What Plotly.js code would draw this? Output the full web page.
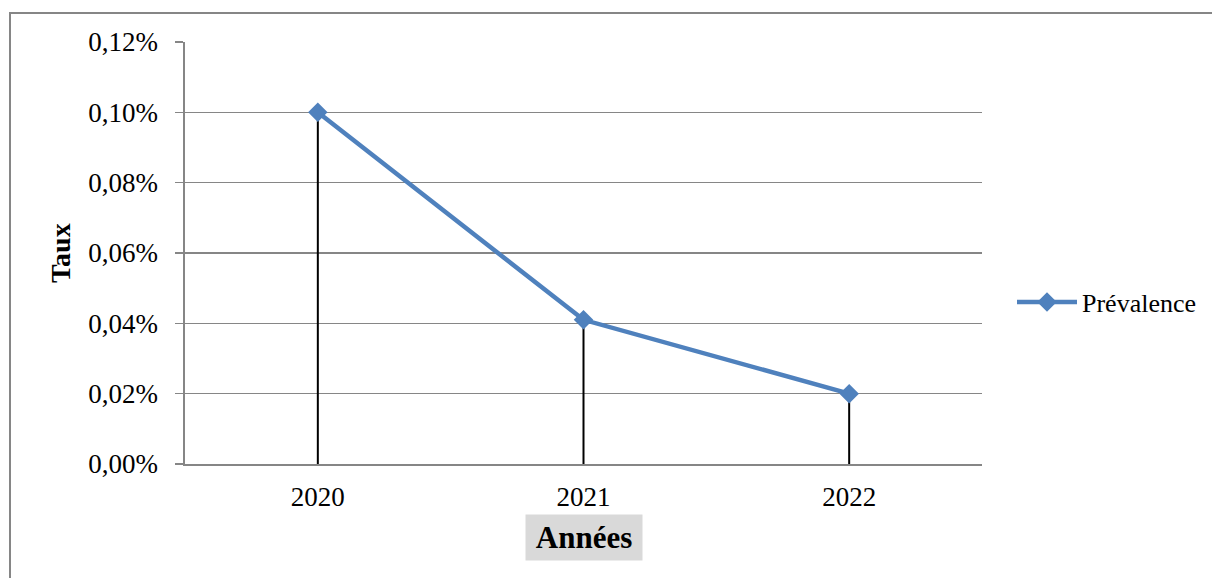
<!DOCTYPE html>
<html>
<head>
<meta charset="utf-8">
<script src="https://cdn.plot.ly/plotly-3.0.1.min.js"></script>
<style>
  html, body { margin: 0; padding: 0; background: #ffffff; }
  #chart { width: 1212px; height: 578px; }
</style>
</head>
<body>
<div id="chart"></div>
<script>
// Prévalence par année
const years = ['2020', '2021', '2022'];
const prevalence = [0.0010, 0.00041, 0.0002];
const yTicks = [0, 0.0002, 0.0004, 0.0006, 0.0008, 0.0010, 0.0012];

const W = 1212, H = 578;
const M = { l: 185, r: 230, t: 42, b: 114, autoexpand: false };
const plotW = W - M.l - M.r;
const plotH = H - M.t - M.b;
// pixel -> paper helpers for the frame and labels
const px = x => (x - M.l) / plotW;
const py = y => (H - M.b - y) / plotH;

const gray = '#868686';
const serif = '"Liberation Serif", "Times New Roman", serif';

// vertical drop lines from each point down to the axis
const dropX = [], dropY = [];
years.forEach((yr, i) => {
  dropX.push(yr, yr, null);
  dropY.push(0, prevalence[i], null);
});

const traces = [
  {
    type: 'scatter', mode: 'lines',
    x: dropX, y: dropY,
    line: { color: '#000000', width: 2 },
    showlegend: false, hoverinfo: 'skip'
  },
  {
    type: 'scatter', mode: 'lines+markers',
    name: 'Prévalence',
    x: years, y: prevalence,
    line: { color: '#4f81bd', width: 4.5 },
    marker: { symbol: 'diamond', size: 15, color: '#4f81bd' }
  }
];

const layout = {
  width: W, height: H,
  margin: M,
  paper_bgcolor: '#ffffff',
  plot_bgcolor: '#ffffff',
  separators: ', ',
  font: { family: serif, size: 27, color: '#000000' },
  showlegend: true,
  legend: {
    x: px(1012), y: py(302), xanchor: 'left', yanchor: 'middle',
    font: { family: serif, size: 26, color: '#000000' },
    bgcolor: 'rgba(0,0,0,0)', borderwidth: 0, itemwidth: 60
  },
  xaxis: {
    type: 'category',
    categoryorder: 'array', categoryarray: years,
    range: [-0.5, 2.5],
    showgrid: false, zeroline: false,
    showline: true, linecolor: gray, linewidth: 1.5,
    ticks: '', ticklabelstandoff: 8,
    tickfont: { family: serif, size: 27, color: '#000000' }
  },
  yaxis: {
    range: [0, 0.0012],
    tickvals: yTicks, tickformat: '.2%',
    showgrid: true, gridcolor: gray, gridwidth: 1.6,
    zeroline: false,
    showline: true, linecolor: gray, linewidth: 1.6,
    ticks: 'outside', ticklen: 8, tickcolor: gray, tickwidth: 1.6,
    ticklabelstandoff: 12,
    tickfont: { family: serif, size: 27, color: '#000000' }
  },
  annotations: [
    {
      text: '<b>Années</b>', xref: 'paper', yref: 'paper',
      x: px(584), y: py(537), xanchor: 'center', yanchor: 'middle',
      showarrow: false, bgcolor: '#d9d9d9', width: 116, height: 45, borderpad: 0,
      font: { family: serif, size: 31, color: '#000000' }
    },
    {
      text: '<b>Taux</b>', xref: 'paper', yref: 'paper',
      x: px(60), y: py(253), xanchor: 'center', yanchor: 'middle',
      textangle: -90, showarrow: false,
      font: { family: serif, size: 28, color: '#000000' }
    }
  ],
  shapes: [
    {
      type: 'rect', xref: 'paper', yref: 'paper',
      x0: px(10), x1: px(1230), y0: py(600), y1: py(13),
      line: { color: gray, width: 2 }, fillcolor: 'rgba(0,0,0,0)', layer: 'below'
    }
  ]
};

Plotly.newPlot('chart', traces, layout, { displayModeBar: false, staticPlot: true });
</script>
</body>
</html>
